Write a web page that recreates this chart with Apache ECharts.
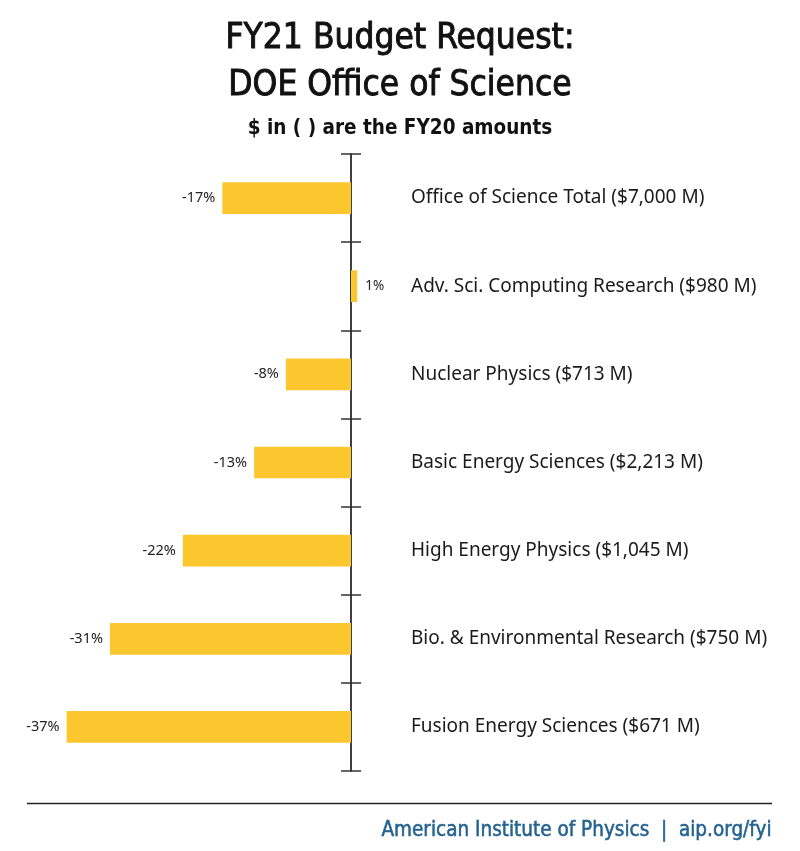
<!DOCTYPE html>
<html>
<head>
<meta charset="utf-8">
<script src="https://cdn.jsdelivr.net/npm/echarts@6/dist/echarts.min.js"></script>
<style>html,body{margin:0;padding:0;background:#fff}#c{width:800px;height:851px}</style>
</head>
<body>
<div id="c"></div>
<script>
const categories = [
  'Office of Science Total ($7,000 M)',
  'Adv. Sci. Computing Research ($980 M)',
  'Nuclear Physics ($713 M)',
  'Basic Energy Sciences ($2,213 M)',
  'High Energy Physics ($1,045 M)',
  'Bio. & Environmental Research ($750 M)',
  'Fusion Energy Sciences ($671 M)'
];
const changePct = [-16.6, 0.8, -8.4, -12.5, -21.7, -31.1, -36.7];
const pctLabels = ['-17%', '1%', '-8%', '-13%', '-22%', '-31%', '-37%'];

const chart = echarts.init(document.getElementById('c'), null, {renderer: 'canvas'});
const cond = '"DejaVu Sans Condensed", "DejaVu Sans", sans-serif';
const option = {
  backgroundColor: '#ffffff',
  animation: false,
  title: [
    {text: 'FY21 Budget Request:', left: 'center', top: 16,
     textStyle: {fontFamily: cond, fontSize: 35, fontWeight: 'normal', color: '#111',
                 textBorderColor: '#111', textBorderWidth: 0.9}},
    {text: 'DOE Office of Science', left: 'center', top: 63,
     textStyle: {fontFamily: cond, fontSize: 35, fontWeight: 'normal', color: '#111',
                 textBorderColor: '#111', textBorderWidth: 0.9}},
    {text: '$ in ( ) are the FY20 amounts', left: 'center', top: 113,
     textStyle: {fontFamily: cond, fontSize: 20.5, fontWeight: 'bold', color: '#111'}},
    {text: 'American Institute of Physics  |  aip.org/fyi', right: 23, top: 815,
     textStyle: {fontFamily: cond, fontSize: 20.5, fontWeight: 'normal', color: '#24628f',
                 textBorderColor: '#24628f', textBorderWidth: 0.5}}
  ],
  graphic: [
    {type: 'line', shape: {x1: 27, y1: 803.5, x2: 772, y2: 803.5},
     style: {stroke: '#222', lineWidth: 1.5}}
  ],
  grid: {left: 41, right: 449, top: 154, height: 617, containLabel: false},
  xAxis: {type: 'value', min: -40, max: 0, show: false},
  yAxis: [
    {type: 'category', data: categories, inverse: true, position: 'right', offset: 0,
     axisLine: {show: true, lineStyle: {color: '#333', width: 1.5}},
     axisTick: {show: true, length: 10, lineStyle: {color: '#333', width: 1.5}},
     axisLabel: {margin: 60, fontFamily: '"Noto Sans", sans-serif', fontSize: 19, color: '#1a1a1a'},
     splitLine: {show: false}},
    {type: 'category', data: categories, inverse: true, position: 'right', offset: 0,
     axisLine: {show: true, lineStyle: {color: '#333', width: 1.5}},
     axisTick: {show: true, inside: true, length: 10, lineStyle: {color: '#333', width: 1.5}},
     axisLabel: {show: false},
     splitLine: {show: false}}
  ],
  series: [{
    type: 'bar',
    clip: false,
    barWidth: '36%',
    itemStyle: {color: '#fcc62f'},
    data: changePct.map((v, i) => ({
      value: v,
      label: {
        show: true,
        position: v < 0 ? 'left' : 'right',
        distance: v < 0 ? 7 : 8,
        formatter: () => pctLabels[i],
        fontFamily: '"Noto Sans", sans-serif',
        fontSize: v < 0 ? 14.5 : 13.5,
        color: '#222'
      }
    }))
  }]
};
chart.setOption(option);
</script>
</body>
</html>
